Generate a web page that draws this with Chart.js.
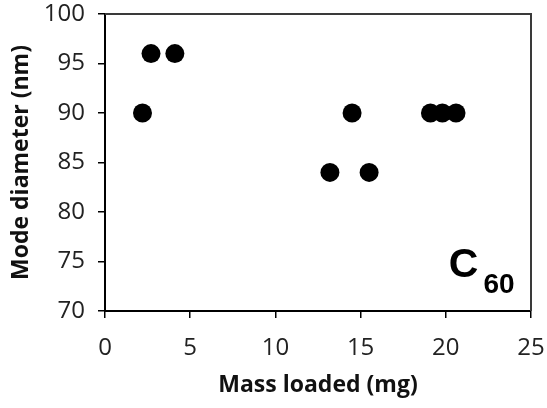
<!DOCTYPE html>
<html>
<head>
<meta charset="utf-8">
<script src="https://cdn.jsdelivr.net/npm/chart.js@4/dist/chart.umd.min.js"></script>
<style>
  html, body { margin: 0; padding: 0; background: #ffffff; }
  canvas { display: block; }
</style>
</head>
<body>
<canvas id="c" width="547" height="408"></canvas>
<script>
// Data
const massLoaded = [2.2, 2.7, 4.1, 13.2, 14.5, 15.5, 19.1, 19.8, 20.6];
const modeDiameter = [90, 96, 96, 84, 90, 84, 90, 90, 90];
const xTicks = [0, 5, 10, 15, 20, 25];
const yTicks = [70, 75, 80, 85, 90, 95, 100];
const xTitle = 'Mass loaded (mg)';
const yTitle = 'Mode diameter (nm)';
const labelMain = 'C';
const labelSub = '60';

const points = massLoaded.map((x, i) => ({ x: x, y: modeDiameter[i] }));

const boxPlugin = {
  id: 'boxAndLabel',
  afterDraw(chart) {
    const { ctx, chartArea } = chart;
    ctx.save();
    ctx.strokeStyle = '#3a3a3a';
    ctx.lineWidth = 2;
    ctx.beginPath();
    ctx.moveTo(chartArea.left, chartArea.top);
    ctx.lineTo(chartArea.right, chartArea.top);
    ctx.lineTo(chartArea.right, chartArea.bottom);
    ctx.stroke();
    // C60 label
    const xs = chart.scales.x, ys = chart.scales.y;
    const bx = xs.getPixelForValue(20.18);
    const by = ys.getPixelForValue(73.43);
    ctx.fillStyle = '#000';
    ctx.textBaseline = 'alphabetic';
    ctx.textAlign = 'left';
    ctx.font = 'bold 41px "Liberation Sans", Arial, sans-serif';
    ctx.fillText(labelMain, bx, by);
    const w = ctx.measureText(labelMain).width;
    ctx.font = 'bold 28px "Liberation Sans", Arial, sans-serif';
    ctx.fillText(labelSub, bx + w + 5, by + 16);
    ctx.restore();
  }
};

new Chart(document.getElementById('c'), {
  type: 'scatter',
  data: {
    datasets: [{
      data: points,
      backgroundColor: '#000',
      borderColor: '#000',
      pointRadius: 9.5,
      pointHoverRadius: 9.5,
      borderWidth: 0
    }]
  },
  options: {
    responsive: false,
    animation: false,
    events: [],
    layout: { padding: { top: 14, right: 16, left: 0, bottom: 0 } },
    plugins: { legend: { display: false }, tooltip: { enabled: false } },
    scales: {
      x: {
        type: 'linear',
        min: 0, max: 25,
        afterFit(s) { s.height = 97; s.paddingLeft = 0; s.paddingRight = 0; },
        afterBuildTicks(s) { s.ticks = xTicks.map(v => ({ value: v })); },
        grid: { display: true, drawOnChartArea: false, drawTicks: true, tickLength: 7, color: '#000', lineWidth: 1.5 },
        border: { display: true, color: '#000', width: 2 },
        ticks: { color: '#222', padding: 16, font: { family: '"Open Sans"', size: 24 }, maxRotation: 0 },
        title: { display: true, text: xTitle, color: '#111', font: { family: '"Open Sans"', size: 23, weight: 'bold' }, padding: { top: 0, bottom: 9 } }
      },
      y: {
        type: 'linear',
        min: 70, max: 100,
        afterFit(s) { s.width = 105; s.paddingTop = 0; s.paddingBottom = 0; },
        afterBuildTicks(s) { s.ticks = yTicks.map(v => ({ value: v })); },
        grid: { display: true, drawOnChartArea: false, drawTicks: true, tickLength: 7, color: '#000', lineWidth: 1.5 },
        border: { display: true, color: '#000', width: 2 },
        ticks: { color: '#222', padding: 13, font: { family: '"Open Sans"', size: 24 } },
        title: { display: true, text: yTitle, color: '#111', font: { family: '"Open Sans"', size: 23, weight: 'bold' }, padding: { top: 8, bottom: 0 } }
      }
    }
  },
  plugins: [boxPlugin]
});
</script>
</body>
</html>
